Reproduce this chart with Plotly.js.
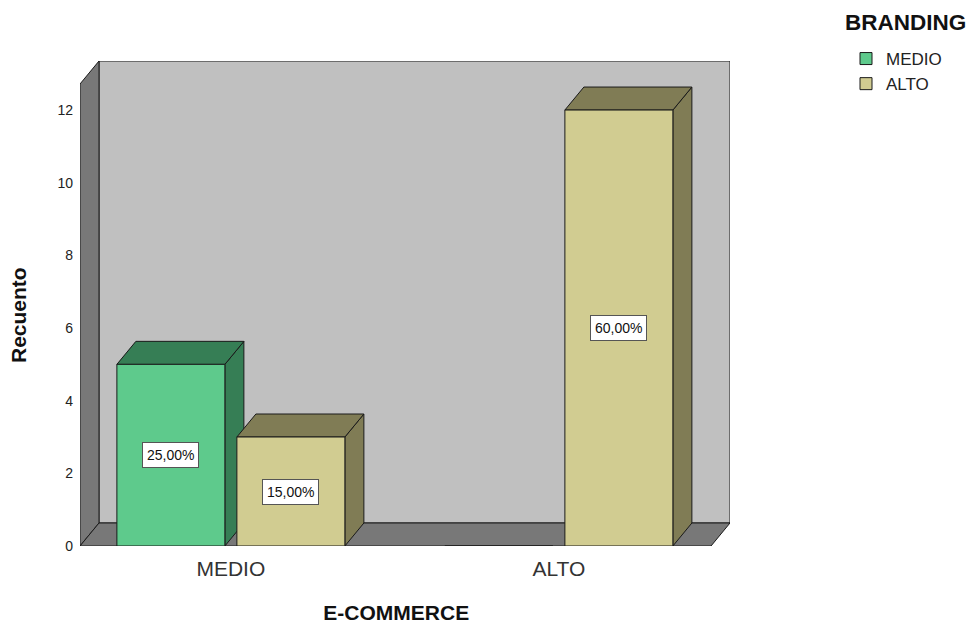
<!DOCTYPE html>
<html>
<head>
<meta charset="utf-8">
<script src="https://cdn.plot.ly/plotly-3.0.1.min.js"></script>
<style>html,body{margin:0;padding:0;background:#fff;}#chart{width:969px;height:630px;}</style>
</head>
<body>
<div id="chart"></div>
<script>
// ---- data ----
const categories = ['MEDIO', 'ALTO'];          // E-COMMERCE levels
const seriesNames = ['MEDIO', 'ALTO'];         // BRANDING levels
const brandingMedio = [5, 0];
const brandingAlto = [3, 12];
const yTicks = [0, 2, 4, 6, 8, 10, 12];

// ---- styling / geometry ----
const font = 'Arial, "Liberation Sans", sans-serif';
const frontColors = ['#5ECA8C', '#D1CC91'];
const darkColors = ['#367E55', '#807C55'];
const plotW = 650, plotH = 485;
const xRange = [-0.46, 1.5217];
const yRange = [0, 13.35];
const pxX = plotW / (xRange[1] - xRange[0]);
const pxY = plotH / (yRange[1] - yRange[0]);
const dX = 19 / pxX, dY = 23 / pxY;            // depth offset in data units
const barW = 108 / pxX;
const offsets = [-114 / pxX, 6 / pxX];
const frontLeft = xRange[0], frontRight = xRange[1] - dX, frontTop = yRange[1] - dY;

const series = [brandingMedio, brandingAlto];
const total = series.reduce((s, arr) => s + arr.reduce((a, b) => a + b, 0), 0);

function poly(pts) {
  return 'M' + pts.map(p => p[0] + ',' + p[1]).join(' L') + ' Z';
}

const shapes = [];
const edge = {color: '#1a1a1a', width: 1};
// back wall
shapes.push({type: 'path', xref: 'x', yref: 'y', layer: 'below', line: edge, fillcolor: '#C0C0C0',
  path: poly([[frontLeft + dX, dY], [frontRight + dX, dY], [frontRight + dX, frontTop + dY], [frontLeft + dX, frontTop + dY]])});
// left wall
shapes.push({type: 'path', xref: 'x', yref: 'y', layer: 'below', line: edge, fillcolor: '#787878',
  path: poly([[frontLeft, 0], [frontLeft + dX, dY], [frontLeft + dX, frontTop + dY], [frontLeft, frontTop]])});
// floor
shapes.push({type: 'path', xref: 'x', yref: 'y', layer: 'below', line: edge, fillcolor: '#787878',
  path: poly([[frontLeft, 0], [frontRight, 0], [frontRight + dX, dY], [frontLeft + dX, dY]])});

const traces = [];
const annotations = [];
series.forEach((vals, s) => {
  traces.push({
    type: 'bar', name: seriesNames[s], x: categories, y: vals,
    width: categories.map(() => barW), offset: categories.map(() => offsets[s]),
    marker: {color: frontColors[s], line: {color: '#1a1a1a', width: 1}},
    hoverinfo: 'x+y+name'
  });
});
// 3D side/top faces and labels, in drawing order (left to right)
categories.forEach((c, ci) => {
  series.forEach((vals, s) => {
    const v = vals[ci];
    if (!(v > 0)) return;
    const x0 = ci + offsets[s], x1 = x0 + barW;
    shapes.push({type: 'path', xref: 'x', yref: 'y', layer: 'below', line: edge, fillcolor: darkColors[s],
      path: poly([[x1, 0], [x1 + dX, dY], [x1 + dX, v + dY], [x1, v]])});
    shapes.push({type: 'path', xref: 'x', yref: 'y', layer: 'below', line: edge, fillcolor: darkColors[s],
      path: poly([[x0, v], [x0 + dX, v + dY], [x1 + dX, v + dY], [x1, v]])});
    annotations.push({
      xref: 'x', yref: 'y', x: x0 + barW / 2, y: v / 2, showarrow: false,
      text: (v / total * 100).toFixed(2).replace('.', ',') + '%',
      font: {family: font, size: 14, color: '#111'},
      bgcolor: '#ffffff', bordercolor: '#555555', borderwidth: 1, borderpad: 4
    });
  });
});
// legend heading
annotations.push({
  xref: 'paper', yref: 'paper', x: (843 - 80) / plotW, y: 1 + (61 - 22) / plotH, xanchor: 'left', yanchor: 'middle',
  showarrow: false, text: '<b>BRANDING</b>', font: {family: font, size: 22.5, color: '#111'}
});

const pad = n => '\u00A0'.repeat(n);   // trailing spaces to centre titles on the front plane

const layout = {
  width: 969, height: 630,
  margin: {l: 80, r: 239, t: 61, b: 84, pad: 0},
  paper_bgcolor: '#ffffff', plot_bgcolor: 'rgba(0,0,0,0)',
  font: {family: font, color: '#222'},
  barmode: 'group',
  xaxis: {
    type: 'category', range: xRange, showgrid: false, zeroline: false, showline: false,
    ticks: '', ticklabelstandoff: 8, tickfont: {family: font, size: 21, color: '#333'},
    title: {text: '<b>E-COMMERCE' + pad(3) + '</b>', font: {family: font, size: 21, color: '#111'}, standoff: 26},
    fixedrange: true
  },
  yaxis: {
    range: yRange, tickvals: yTicks, ticktext: yTicks.map(String), showgrid: false, zeroline: false, showline: false,
    ticks: '', ticklabelstandoff: 6, tickfont: {family: font, size: 14, color: '#222'},
    title: {text: '<b>Recuento' + pad(4) + '</b>', font: {family: font, size: 21, color: '#111'}, standoff: 25},
    fixedrange: true
  },
  showlegend: true,
  legend: {
    xref: 'container', yref: 'container',
    x: 846 / 969, xanchor: 'left', y: 1 - 41 / 630, yanchor: 'top',
    font: {family: font, size: 17, color: '#222'},
    bgcolor: 'rgba(0,0,0,0)', tracegroupgap: 0, itemclick: false
  },
  shapes: shapes,
  annotations: annotations
};

Plotly.newPlot('chart', traces, layout, {displayModeBar: false, staticPlot: true});
</script>
</body>
</html>
